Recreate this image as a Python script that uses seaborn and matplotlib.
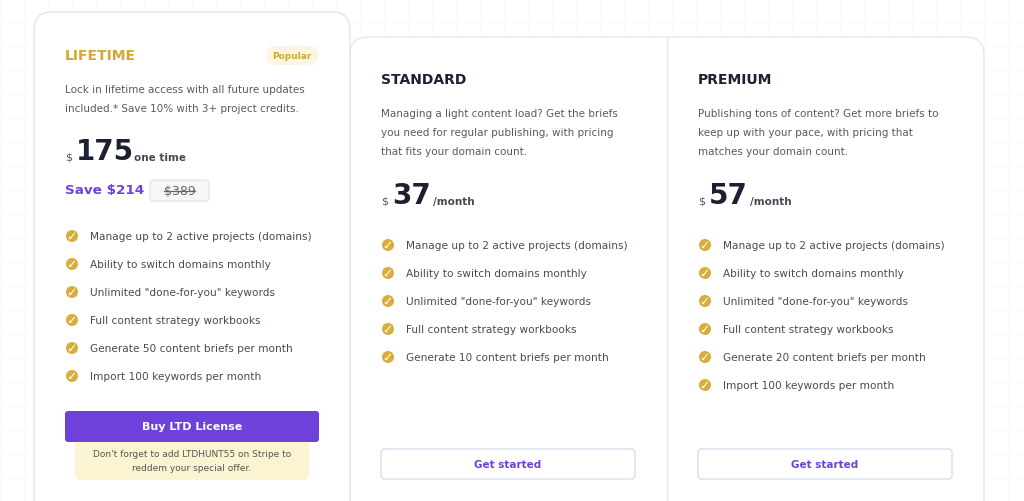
import matplotlib
matplotlib.use("Agg")
import matplotlib.pyplot as plt
import seaborn as sns
import pandas as pd
from matplotlib.patches import FancyBboxPatch

# Plan content
plans = ["LIFETIME", "STANDARD", "PREMIUM"]
prices = [175, 37, 57]
price_units = ["one time", "/month", "/month"]
descriptions = [
    ["Lock in lifetime access with all future updates", "included.* Save 10% with 3+ project credits."],
    ["Managing a light content load? Get the briefs", "you need for regular publishing, with pricing", "that fits your domain count."],
    ["Publishing tons of content? Get more briefs to", "keep up with your pace, with pricing that", "matches your domain count."],
]
features = [
    ["Manage up to 2 active projects (domains)", "Ability to switch domains monthly",
     "Unlimited \"done-for-you\" keywords", "Full content strategy workbooks",
     "Generate 50 content briefs per month", "Import 100 keywords per month"],
    ["Manage up to 2 active projects (domains)", "Ability to switch domains monthly",
     "Unlimited \"done-for-you\" keywords", "Full content strategy workbooks",
     "Generate 10 content briefs per month"],
    ["Manage up to 2 active projects (domains)", "Ability to switch domains monthly",
     "Unlimited \"done-for-you\" keywords", "Full content strategy workbooks",
     "Generate 20 content briefs per month", "Import 100 keywords per month"],
]
buttons = ["Buy LTD License", "Get started", "Get started"]

GOLD = "#d4a833"
PURPLE = "#6d42d8"
DARK = "#1c2030"
GREY = "#555a66"

fig = plt.figure(figsize=(10.24, 5.02), dpi=100)
ax = fig.add_axes([0, 0, 1, 1])
ax.set_xlim(0, 1024)
ax.set_ylim(502, 0)
ax.axis("off")

# faint background grid
for g in range(0, 1024, 24):
    ax.axvline(g, color="#f9f9fa", lw=0.6, zorder=0)
for g in range(0, 502, 24):
    ax.axhline(g, color="#f9f9fa", lw=0.6, zorder=0)

# cards
ax.add_patch(FancyBboxPatch((350, 38), 634, 500, boxstyle="round,pad=0,rounding_size=18",
                            fc="white", ec="#e6e7ec", lw=1, zorder=1))
ax.plot([667, 667], [38, 502], color="#e6e7ec", lw=1, zorder=2)
ax.add_patch(FancyBboxPatch((34, 13), 316, 520, boxstyle="round,pad=0,rounding_size=18",
                            fc="white", ec="#e3e4ea", lw=1, zorder=3))

xs = [65, 381, 698]
tops = [56, 80, 80]
rows = []
for i, plan in enumerate(plans):
    x0, t = xs[i], tops[i]
    title_color = GOLD if i == 0 else DARK
    ax.text(x0, t, plan, color=title_color, fontsize=10, fontweight="bold", va="center", zorder=5)
    for j, line in enumerate(descriptions[i]):
        ax.text(x0, t + 34 + j * 19, line, color=GREY, fontsize=7.5, va="center", zorder=5)
    py = 152 if i == 0 else 196
    ax.text(x0, py + 6, "$", color=GREY, fontsize=8, va="center", zorder=5)
    ax.text(x0 + 11, py, str(prices[i]), color=DARK, fontsize=20, fontweight="bold", va="center", zorder=5)
    ax.text(x0 + (69 if i == 0 else 52), py + 6, price_units[i], color="#444a55", fontsize=7.5,
            fontweight="bold", va="center", zorder=5)
    fy = 237 if i == 0 else 246
    for j, f in enumerate(features[i]):
        y = fy + j * 28
        ax.text(x0 + 25, y, f, color="#464b56", fontsize=7.6, va="center", zorder=5)
        rows.append({"x": x0 + 7, "y": y})

checks = pd.DataFrame(rows)
sns.scatterplot(data=checks, x="x", y="y", ax=ax, s=75, color="#d8ad3c", edgecolor="none", zorder=5, legend=False)
sns.scatterplot(data=checks, x="x", y="y", ax=ax, s=22, marker=r"$\checkmark$", color="white",
                edgecolor="none", zorder=6, legend=False)

# Popular badge
ax.add_patch(FancyBboxPatch((266, 47), 52, 19, boxstyle="round,pad=0,rounding_size=9",
                            fc="#fcf5e2", ec="none", zorder=4))
ax.text(292, 56.5, "Popular", color=GOLD, fontsize=6.5, fontweight="bold", ha="center", va="center", zorder=5)

# Savings
ax.text(65, 191, "Save $214", color=PURPLE, fontsize=9.7, fontweight="bold", va="center", zorder=5)
ax.add_patch(FancyBboxPatch((150, 181), 59, 21, boxstyle="round,pad=0,rounding_size=3",
                            fc="#f6f6f7", ec="#e2e2e6", lw=0.8, zorder=4))
ax.text(179.5, 191.5, "$389", color="#666", fontsize=9, ha="center", va="center", zorder=5)
ax.plot([164, 195], [191.5, 191.5], color="#666", lw=0.9, zorder=6)

# Lifetime button and note
ax.add_patch(FancyBboxPatch((75, 440), 234, 41, boxstyle="round,pad=0,rounding_size=7",
                            fc="#fbf4d3", ec="none", zorder=4))
ax.text(192, 455, "Don't forget to add LTDHUNT55 on Stripe to", color="#555", fontsize=6.5,
        ha="center", va="center", zorder=5)
ax.text(192, 469, "reddem your special offer.", color="#555", fontsize=6.5, ha="center", va="center", zorder=5)
ax.add_patch(FancyBboxPatch((65, 412), 254, 31, boxstyle="round,pad=0,rounding_size=3",
                            fc="#6e42da", ec="none", zorder=5))
ax.text(192, 427, buttons[0], color="white", fontsize=8, fontweight="bold", ha="center", va="center", zorder=6)

for i in (1, 2):
    ax.add_patch(FancyBboxPatch((xs[i], 450), 254, 30, boxstyle="round,pad=0,rounding_size=4",
                                fc="white", ec="#dcdcf0", lw=1, zorder=4))
    ax.text(xs[i] + 127, 465, buttons[i], color=PURPLE, fontsize=7.5, fontweight="bold",
            ha="center", va="center", zorder=5)

fig.savefig("out.png", dpi=100, facecolor="white")
